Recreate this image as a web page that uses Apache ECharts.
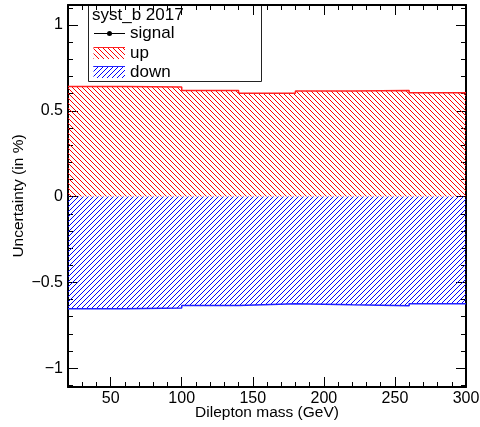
<!DOCTYPE html>
<html>
<head>
<meta charset="utf-8">
<script src="https://cdn.jsdelivr.net/npm/echarts@6/dist/echarts.min.js"></script>
<style>
  html, body { margin: 0; padding: 0; background: #fff; }
  #chart { width: 480px; height: 427px; }
</style>
</head>
<body>
<div id="chart"></div>
<script>
// bin edges (GeV) and uncertainty per bin
const binEdges = [20, 60, 100, 140, 180, 220, 260, 300]
const upValues = [0.642, 0.639, 0.618, 0.603, 0.616, 0.618, 0.606]
const downValues = [-0.654, -0.650, -0.635, -0.624, -0.631, -0.637, -0.625]

// tick labels
const xMajor = [50, 100, 150, 200, 250, 300]
const xMinor = [30, 40, 60, 70, 80, 90, 110, 120, 130, 140, 160, 170, 180, 190, 210, 220, 230, 240, 260, 270, 280, 290]
const yMajor = [-1, -0.5, 0, 0.5, 1]
const yMinor = [-1.1, -0.9, -0.8, -0.7, -0.6, -0.4, -0.3, -0.2, -0.1, 0.1, 0.2, 0.3, 0.4, 0.6, 0.7, 0.8, 0.9, 1.1]

const FONT = '"Liberation Sans", Arial, sans-serif'

function hatch(color, forward) {
  const s = 5
  const c = document.createElement('canvas')
  c.width = s
  c.height = s
  const ctx = c.getContext('2d')
  ctx.strokeStyle = color
  ctx.lineWidth = 1
  for (let k = -1; k <= 1; k++) {
    ctx.beginPath()
    if (forward) {
      ctx.moveTo(k * s, s)
      ctx.lineTo(k * s + s, 0)
    } else {
      ctx.moveTo(k * s, 0)
      ctx.lineTo(k * s + s, s)
    }
    ctx.stroke()
  }
  return { image: c, repeat: 'repeat' }
}

function stepData(vals) {
  return binEdges.map((e, i) => [e, vals[Math.min(i, vals.length - 1)]])
}

const redHatch = hatch('#ff0000', false)
const blueHatch = hatch('#0000ff', true)

function fmt(v) {
  return v < 0 ? '\u2212' + String(-v) : String(v)
}

function xAx(pos, ticks, len, main) {
  return {
    type: 'value', position: pos, min: 20, max: 300,
    axisLine: { show: main, onZero: false, lineStyle: { color: '#000', width: 2 } },
    axisTick: { show: true, inside: true, length: len, customValues: ticks, lineStyle: { color: '#000', width: 1 } },
    axisLabel: { show: main && pos === 'bottom' && len > 6, customValues: ticks, margin: 4, color: '#000', fontSize: 16, fontFamily: FONT },
    splitLine: { show: false }
  }
}

function yAx(pos, ticks, len, main) {
  return {
    type: 'value', position: pos, min: -1.11, max: 1.117,
    axisLine: { show: main, onZero: false, lineStyle: { color: '#000', width: 2 } },
    axisTick: { show: true, inside: true, length: len, customValues: ticks, lineStyle: { color: '#000', width: 1 } },
    axisLabel: { show: main && pos === 'left' && len > 6, customValues: ticks, margin: 5, color: '#000', fontSize: 16, fontFamily: FONT, formatter: fmt },
    splitLine: { show: false }
  }
}

const xMain = xAx('bottom', xMajor, 10, true)
xMain.name = 'Dilepton mass (GeV)'
xMain.nameLocation = 'middle'
xMain.nameGap = 18
xMain.nameMoveOverlap = false
xMain.nameTextStyle = { color: '#000', fontSize: 15.5, fontFamily: FONT }

const yMain = yAx('left', yMajor, 10, true)
yMain.name = 'Uncertainty (in %)'
yMain.nameLocation = 'middle'
yMain.nameGap = 41
yMain.nameMoveOverlap = false
yMain.nameTextStyle = { color: '#000', fontSize: 15.5, fontFamily: FONT }

const chart = echarts.init(document.getElementById('chart'), null, { renderer: 'canvas' })
chart.setOption({
  animation: false,
  backgroundColor: '#fff',
  grid: { left: 68, right: 14, top: 5, bottom: 40, containLabel: false, outerBoundsMode: 'none' },
  xAxis: [
    xMain,
    xAx('bottom', xMinor, 5, false),
    xAx('top', xMajor, 10, true),
    xAx('top', xMinor, 5, false)
  ],
  yAxis: [
    yMain,
    yAx('left', yMinor, 5, false),
    yAx('right', yMajor, 10, true),
    yAx('right', yMinor, 5, false)
  ],
  series: [
    {
      name: 'up', type: 'line', step: 'end', showSymbol: false,
      data: stepData(upValues),
      lineStyle: { color: '#ff2020', width: 1.5 },
      areaStyle: { color: redHatch, opacity: 1 },
      z: 1
    },
    {
      name: 'down', type: 'line', step: 'end', showSymbol: false,
      data: stepData(downValues),
      lineStyle: { color: '#2020ff', width: 1.5 },
      areaStyle: { color: blueHatch, opacity: 1 },
      z: 1
    }
  ],
  graphic: [
    {
      type: 'group', z: 100,
      children: [
        { type: 'rect', shape: { x: 88.5, y: 4.5, width: 173, height: 77 }, style: { fill: '#fff', stroke: '#222', lineWidth: 1 } },
        { type: 'text', x: 92, y: 15, style: { text: 'syst_b 2017', fill: '#000', font: '17px ' + FONT, verticalAlign: 'middle' } },
        { type: 'line', shape: { x1: 94, y1: 33.5, x2: 125, y2: 33.5 }, style: { stroke: '#000', lineWidth: 1 } },
        { type: 'circle', shape: { cx: 109.5, cy: 33.5, r: 2.5 }, style: { fill: '#000' } },
        { type: 'text', x: 130, y: 33.5, style: { text: 'signal', fill: '#000', font: '17px ' + FONT, verticalAlign: 'middle' } },
        { type: 'rect', shape: { x: 93.5, y: 47, width: 31.5, height: 12 }, style: { fill: redHatch } },
        { type: 'line', shape: { x1: 93.5, y1: 47.5, x2: 125, y2: 47.5 }, style: { stroke: '#ff2020', lineWidth: 1 } },
        { type: 'text', x: 130, y: 53, style: { text: 'up', fill: '#000', font: '17px ' + FONT, verticalAlign: 'middle' } },
        { type: 'rect', shape: { x: 93.5, y: 66, width: 31.5, height: 12 }, style: { fill: blueHatch } },
        { type: 'line', shape: { x1: 93.5, y1: 66.5, x2: 125, y2: 66.5 }, style: { stroke: '#2020ff', lineWidth: 1 } },
        { type: 'text', x: 130, y: 72, style: { text: 'down', fill: '#000', font: '17px ' + FONT, verticalAlign: 'middle' } }
      ]
    }
  ]
})
</script>
</body>
</html>
